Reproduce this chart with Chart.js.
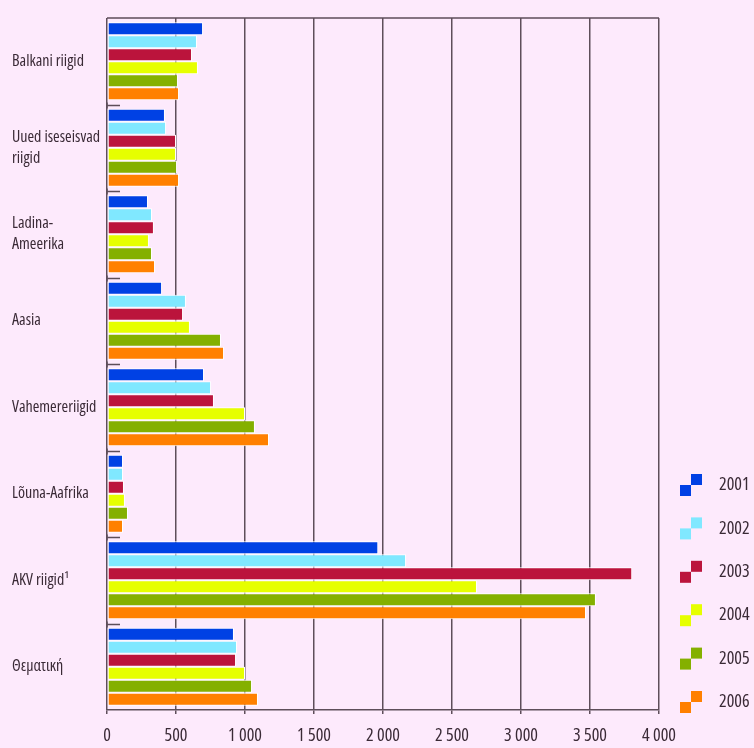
<!DOCTYPE html>
<html>
<head>
<meta charset="utf-8">
<script src="https://cdn.jsdelivr.net/npm/chart.js@4"></script>
<style>
  html, body { margin: 0; padding: 0; background: #fdeafc; }
  #wrap { width: 754px; height: 748px; }
</style>
</head>
<body>
<div id="wrap"><canvas id="chart" width="754" height="748"></canvas></div>
<script>
const categories = [
  "Balkani riigid",
  ["Uued iseseisvad", "riigid"],
  ["Ladina-", "Ameerika"],
  "Aasia",
  "Vahemereriigid",
  "Lõuna-Aafrika",
  "AKV riigid¹",
  "Θεματική"
];
const years = ["2001", "2002", "2003", "2004", "2005", "2006"];
const colors = ["#0041e4", "#80e8ff", "#bb143c", "#e6ff00", "#84b000", "#ff8000"];

const v2001 = [696, 420, 297, 399, 703, 116, 1966, 920];
const v2002 = [652, 428, 326, 572, 754, 116, 2167, 942];
const v2003 = [616, 500, 340, 551, 775, 123, 3806, 935];
const v2004 = [659, 500, 304, 601, 1000, 130, 2681, 1000];
const v2005 = [514, 507, 326, 826, 1072, 152, 3543, 1051];
const v2006 = [522, 522, 348, 848, 1174, 116, 3471, 1094];
const series = [v2001, v2002, v2003, v2004, v2005, v2006];

const xTickLabels = ["0", "500", "1 000", "1 500", "2 000", "2 500", "3 000", "3 500", "4 000"];

// Open Sans is variable here, "condensed" in the weight slot gives the narrow cut
const family = "'Open Sans', sans-serif";
const textColor = "#3a2a36";
const lineColor = "#5e4e5a";

// short ticks between categories, top border, custom legend
const extras = {
  id: "extras",
  afterDraw(chart) {
    const ctx = chart.ctx;
    const area = chart.chartArea;
    const y = chart.scales.y;
    ctx.save();
    ctx.strokeStyle = lineColor;
    ctx.lineWidth = 1.5;
    ctx.beginPath();
    ctx.moveTo(area.left, area.top);
    ctx.lineTo(area.right, area.top);
    for (let i = 1; i < categories.length; i++) {
      const py = Math.round((y.getPixelForValue(i - 1) + y.getPixelForValue(i)) / 2) + 0.5;
      ctx.moveTo(area.left, py);
      ctx.lineTo(area.left + 13, py);
      ctx.moveTo(area.left, py - 3);
      ctx.lineTo(area.left, py + 3);
    }
    ctx.stroke();

    // legend
    ctx.font = "normal condensed 18px " + family;
    ctx.textBaseline = "middle";
    ctx.textAlign = "left";
    years.forEach((yr, i) => {
      const cy = 485 + i * 43.4;
      ctx.fillStyle = colors[i];
      ctx.fillRect(680, cy, 11, 11);
      ctx.fillRect(691, cy - 11, 11, 11);
      ctx.fillStyle = textColor;
      ctx.fillText(yr, 719, cy);
    });
    ctx.restore();
  }
};

new Chart(document.getElementById("chart"), {
  type: "bar",
  data: {
    labels: categories,
    datasets: years.map((yr, i) => ({
      label: yr,
      data: series[i],
      backgroundColor: colors[i],
      borderColor: "#ffffff",
      borderWidth: 1,
      borderSkipped: false,
      categoryPercentage: 0.9,
      barPercentage: 1.0
    }))
  },
  options: {
    indexAxis: "y",
    responsive: false,
    animation: false,
    layout: { padding: { left: 12, right: 95, top: 18, bottom: 0 } },
    plugins: { legend: { display: false }, tooltip: { enabled: false } },
    scales: {
      x: {
        min: 0,
        max: 4000,
        ticks: {
          stepSize: 500,
          color: textColor,
          font: { family: family, size: 18, style: "normal", weight: "condensed" },
          padding: 11,
          callback: (v, i) => xTickLabels[i]
        },
        grid: { color: lineColor, lineWidth: 1.5, tickLength: 4 },
        border: { color: lineColor, width: 1.5 },
        afterFit: s => { s.height = 38; }
      },
      y: {
        ticks: {
          color: textColor,
          crossAlign: "far",
          font: { family: family, size: 16, style: "normal", weight: "condensed", lineHeight: 1.3 }
        },
        grid: { display: false },
        border: { display: false },
        afterFit: s => { s.width = 95; }
      }
    }
  },
  plugins: [extras]
});
</script>
</body>
</html>
